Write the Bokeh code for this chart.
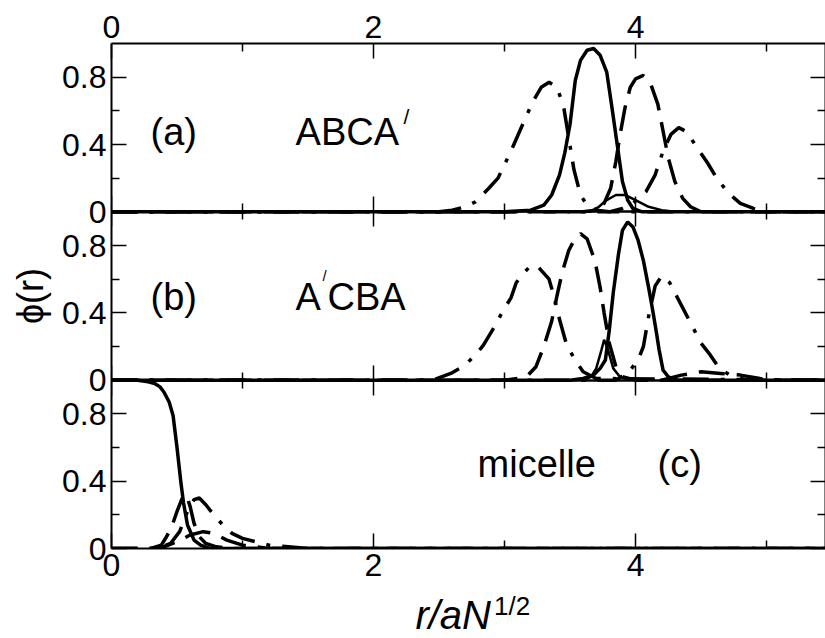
from bokeh.plotting import figure
from bokeh.layouts import column
from bokeh.models import Range1d, LinearAxis, FixedTicker, Label
from bokeh.embed import file_html
from bokeh.resources import INLINE

# ---------------- data ----------------
X_TICKS = [0, 2, 4]
X_MINOR = [1, 3, 5]
Y_TICKS = [0, 0.4, 0.8]
Y_MINOR = [0.2, 0.6]
Y_TICK_LABELS = ["0", "0.4", "0.8"]

# panel (a)  ABCA'
a_solid_x = [0, 3.0, 3.2, 3.3, 3.36, 3.42, 3.46, 3.5, 3.54, 3.58, 3.63, 3.68, 3.73, 3.78, 3.82, 3.86, 3.9, 3.94, 3.98, 4.05, 5.45]
a_solid_y = [0, 0, 0.01, 0.04, 0.1, 0.22, 0.35, 0.52, 0.78, 0.9, 0.96, 0.97, 0.93, 0.83, 0.62, 0.4, 0.18, 0.07, 0.02, 0, 0]
a_hump_x = [3.65, 3.72, 3.78, 3.85, 3.92, 4.0, 4.1, 4.2, 4.3]
a_hump_y = [0, 0.03, 0.07, 0.1, 0.1, 0.07, 0.03, 0.01, 0]
a_dd1_x = [0, 2.5, 2.6, 2.7, 2.78, 2.88, 2.95, 3.0, 3.06, 3.15, 3.22, 3.28, 3.34, 3.4, 3.45, 3.49, 3.53, 3.58, 3.63, 3.7, 3.8, 5.45]
a_dd1_y = [0, 0, 0.01, 0.03, 0.06, 0.14, 0.2, 0.28, 0.38, 0.54, 0.66, 0.74, 0.77, 0.74, 0.63, 0.44, 0.25, 0.1, 0.04, 0.01, 0, 0]
a_dash_x = [0, 3.6, 3.7, 3.76, 3.81, 3.85, 3.88, 3.92, 3.96, 4.0, 4.06, 4.12, 4.17, 4.21, 4.25, 4.3, 4.36, 4.42, 4.5, 5.45]
a_dash_y = [0, 0, 0.01, 0.05, 0.14, 0.3, 0.45, 0.62, 0.74, 0.79, 0.81, 0.75, 0.64, 0.48, 0.32, 0.18, 0.08, 0.03, 0, 0]
a_dd2_x = [0, 3.8, 3.9, 3.98, 4.08, 4.15, 4.21, 4.27, 4.33, 4.38, 4.42, 4.48, 4.55, 4.62, 4.71, 4.8, 4.9, 4.97, 5.45]
a_dd2_y = [0, 0, 0.02, 0.05, 0.12, 0.22, 0.36, 0.46, 0.5, 0.48, 0.44, 0.37, 0.29, 0.2, 0.11, 0.05, 0.02, 0, 0]

# panel (b)  A'CBA
b_solid_x = [0, 3.5, 3.6, 3.68, 3.73, 3.77, 3.8, 3.83, 3.87, 3.9, 3.94, 3.98, 4.02, 4.06, 4.1, 4.13, 4.16, 4.18, 4.21, 4.25, 4.32, 5.45]
b_solid_y = [0, 0, 0.01, 0.03, 0.07, 0.12, 0.3, 0.52, 0.75, 0.89, 0.94, 0.91, 0.83, 0.71, 0.55, 0.42, 0.28, 0.18, 0.06, 0.02, 0, 0]
b_hump_x = [3.6, 3.66, 3.7, 3.74, 3.76, 3.79, 3.83, 3.88, 3.95]
b_hump_y = [0, 0.02, 0.07, 0.18, 0.24, 0.18, 0.07, 0.02, 0]
b_dd1_x = [0, 2.45, 2.59, 2.7, 2.79, 2.84, 2.91, 2.98, 3.05, 3.09, 3.15, 3.2, 3.26, 3.34, 3.38, 3.42, 3.47, 3.53, 3.6, 3.7, 5.45]
b_dd1_y = [0, 0, 0.04, 0.09, 0.16, 0.21, 0.3, 0.4, 0.49, 0.58, 0.64, 0.68, 0.67, 0.6, 0.49, 0.36, 0.22, 0.13, 0.05, 0.01, 0]
b_dash_x = [0, 3.0, 3.1, 3.18, 3.24, 3.3, 3.36, 3.4, 3.44, 3.49, 3.53, 3.58, 3.63, 3.69, 3.73, 3.76, 3.8, 3.85, 3.9, 4.0, 5.45]
b_dash_y = [0, 0, 0.01, 0.03, 0.08, 0.2, 0.35, 0.5, 0.64, 0.77, 0.83, 0.87, 0.84, 0.71, 0.55, 0.4, 0.22, 0.08, 0.02, 0, 0]
b_dd2_x = [0, 3.85, 3.95, 4.02, 4.06, 4.1, 4.15, 4.2, 4.26, 4.32, 4.38, 4.44, 4.5, 4.57, 4.64, 4.72, 4.85, 5.45]
b_dd2_y = [0, 0, 0.05, 0.12, 0.2, 0.38, 0.56, 0.62, 0.58, 0.49, 0.4, 0.31, 0.22, 0.15, 0.07, 0.03, 0, 0]
b_low_x = [4.2, 4.35, 4.5, 4.65, 4.8, 4.95, 5.1]
b_low_y = [0, 0.03, 0.05, 0.04, 0.03, 0.01, 0]

# panel (c)  micelle
c_solid_x = [0, 0.2, 0.28, 0.33, 0.37, 0.40, 0.44, 0.47, 0.50, 0.53, 0.55, 0.58, 0.63, 0.68, 0.75, 5.45]
c_solid_y = [1.0, 1.0, 0.99, 0.98, 0.96, 0.93, 0.87, 0.79, 0.6, 0.39, 0.27, 0.14, 0.05, 0.02, 0, 0]
c_dash1_x = [0, 0.3, 0.38, 0.42, 0.46, 0.5, 0.54, 0.57, 0.6, 0.63, 0.67, 0.72, 0.8, 0.9, 5.45]
c_dash1_y = [0, 0, 0.02, 0.07, 0.13, 0.22, 0.3, 0.32, 0.25, 0.15, 0.07, 0.03, 0.01, 0, 0]
c_dd_x = [0, 0.35, 0.45, 0.52, 0.58, 0.63, 0.67, 0.72, 0.78, 0.85, 0.92, 1.0, 1.1, 1.2, 1.35, 1.5, 5.45]
c_dd_y = [0, 0, 0.03, 0.1, 0.22, 0.29, 0.3, 0.26, 0.2, 0.14, 0.09, 0.06, 0.04, 0.02, 0.01, 0, 0]
c_dash2_x = [0, 0.3, 0.4, 0.5, 0.6, 0.7, 0.78, 0.88, 1.0, 1.2, 5.45]
c_dash2_y = [0, 0, 0.01, 0.04, 0.08, 0.1, 0.09, 0.05, 0.02, 0, 0]

PANELS = ["c", "b", "a"]  # bottom to top

# ---------------- figure ----------------
FONT = "Liberation Sans"
xr = Range1d(0, 5.45)
p = figure(width=825, height=590, x_range=xr, y_range=Range1d(0, 3),
           output_backend="svg", toolbar_location=None,
           x_axis_location=None, y_axis_location=None,
           min_border_left=111, min_border_right=0, min_border_top=43, min_border_bottom=42)
p.outline_line_color = None
p.xgrid.grid_line_color = None
p.ygrid.grid_line_color = None
p.background_fill_color = "white"
p.border_fill_color = "white"
p.extra_y_ranges = {"a": Range1d(-2, 1), "b": Range1d(-1, 2), "c": Range1d(0, 3)}

# stacked y ticks (one set per panel)
y_ticks_all, y_minor_all, overrides = [], [], {}
for k in range(len(PANELS)):
    for t, lab in zip(Y_TICKS, Y_TICK_LABELS):
        y_ticks_all.append(t + k)
        overrides[t + k] = lab
    for m in Y_MINOR:
        y_minor_all.append(m + k)


def style(ax, labels=True, tin=15, tout=0, mtin=8, mtout=0, standoff=5):
    ax.major_tick_in = tin
    ax.major_tick_out = tout
    ax.minor_tick_in = mtin
    ax.minor_tick_out = mtout
    ax.axis_line_width = 2
    ax.axis_line_color = "black"
    ax.major_tick_line_width = 1.5
    ax.minor_tick_line_width = 1.5
    ax.major_tick_line_color = "black"
    ax.minor_tick_line_color = "black"
    ax.major_label_text_font = FONT
    if labels:
        ax.major_label_text_color = "black"
        ax.major_label_text_font_size = "32px"
        ax.major_label_standoff = standoff
    else:
        ax.major_label_text_color = None
        ax.major_label_text_font_size = "0px"
        ax.major_label_standoff = 0


left = LinearAxis(ticker=FixedTicker(ticks=y_ticks_all, minor_ticks=y_minor_all),
                  major_label_overrides=overrides, axis_label="ϕ(r)")
style(left, standoff=5)
left.axis_label_text_font = FONT
left.axis_label_text_font_size = "36px"
left.axis_label_text_font_style = "normal"
left.axis_label_text_color = "black"
left.axis_label_standoff = 8
p.add_layout(left, "left")

right = LinearAxis(ticker=FixedTicker(ticks=y_ticks_all, minor_ticks=y_minor_all))
style(right, labels=False)
p.add_layout(right, "right")

top = LinearAxis(ticker=FixedTicker(ticks=X_TICKS, minor_ticks=X_MINOR))
style(top, standoff=6)
p.add_layout(top, "above")

bottom = LinearAxis(ticker=FixedTicker(ticks=X_TICKS, minor_ticks=X_MINOR))
style(bottom, standoff=5)
p.add_layout(bottom, "below")

# panel separators: ticks pointing into both neighbouring panels
for k in range(1, len(PANELS)):
    up = LinearAxis(ticker=FixedTicker(ticks=X_TICKS, minor_ticks=X_MINOR), fixed_location=k)
    style(up, labels=False)
    p.add_layout(up, "below")
    down = LinearAxis(ticker=FixedTicker(ticks=X_TICKS, minor_ticks=X_MINOR), fixed_location=k)
    style(down, labels=False)
    p.add_layout(down, "above")

# ---------------- curves ----------------
LW = 3.5
DASH = "26 12"
DASHDOT = "26 12 4 12"


def curve(x, y, panel, dash="solid", lw=LW):
    p.line(x, y, y_range_name=panel, line_color="black", line_width=lw, line_dash=dash)


curve(a_dd1_x, a_dd1_y, "a", DASHDOT)
curve(a_dash_x, a_dash_y, "a", DASH)
curve(a_dd2_x, a_dd2_y, "a", DASHDOT)
curve(a_hump_x, a_hump_y, "a", "solid", 2.5)
curve(a_solid_x, a_solid_y, "a")

curve(b_dd1_x, b_dd1_y, "b", DASHDOT)
curve(b_dash_x, b_dash_y, "b", DASH)
curve(b_dd2_x, b_dd2_y, "b", DASHDOT)
curve(b_low_x, b_low_y, "b", DASH)
curve(b_hump_x, b_hump_y, "b", "solid", 2.5)
curve(b_solid_x, b_solid_y, "b")

curve(c_dash1_x, c_dash1_y, "c", DASH)
curve(c_dd_x, c_dd_y, "c", DASHDOT)
curve(c_dash2_x, c_dash2_y, "c", DASH)
curve(c_solid_x, c_solid_y, "c")

# ---------------- texts ----------------


def txt(fig, x, y, s, panel=None, size="38px", style_="normal"):
    kw = dict(x=x, y=y, text=s, text_font=FONT, text_font_size=size,
              text_font_style=style_, text_color="black",
              text_baseline="alphabetic", text_align="left")
    if panel:
        kw["y_range_name"] = panel
    fig.add_layout(Label(**kw))


txt(p, 0.298, 0.474, "(a)", "a")
txt(p, 1.405, 0.474, "ABCA", "a")
txt(p, 2.229, 0.569, "/", "a", "21px")
txt(p, 0.298, 0.495, "(b)", "b")
txt(p, 1.405, 0.495, "A", "b")
txt(p, 1.611, 0.624, "/", "b", "15px")
txt(p, 1.649, 0.495, "CBA", "b")
txt(p, 2.794, 0.504, "micelle", "c")
txt(p, 4.168, 0.504, "(c)", "c")

# x-axis title strip under the plot (shares the x scale)
q = figure(width=825, height=48, x_range=xr, y_range=Range1d(0, 1),
           output_backend="svg", toolbar_location=None,
           x_axis_location=None, y_axis_location=None,
           min_border_left=111, min_border_right=0, min_border_top=0, min_border_bottom=0)
q.outline_line_color = None
q.xgrid.grid_line_color = None
q.ygrid.grid_line_color = None
q.border_fill_color = "white"
txt(q, 2.32, 0.5, "r/aN", None, "40px", "italic")
txt(q, 2.92, 0.6875, "1/2", None, "26px")

layout = column(p, q, spacing=0)
open("out.html", "w").write(file_html(layout, INLINE))
